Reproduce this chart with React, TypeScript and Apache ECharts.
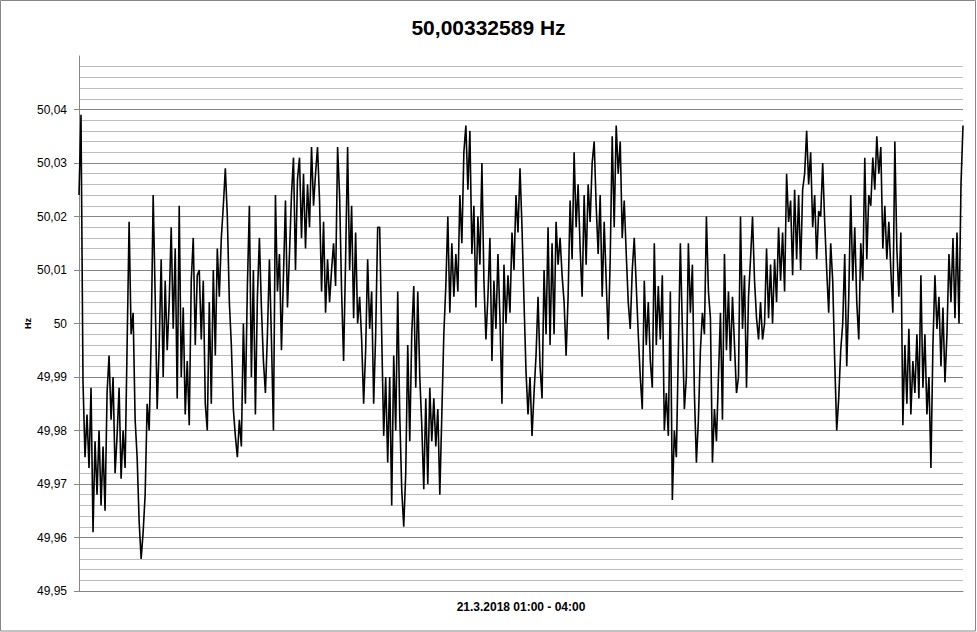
import React, { useEffect, useRef } from "react";
import * as echarts from "echarts";

const chartTitle = "50,00332589 Hz";
const xAxisTitle = "21.3.2018 01:00 - 04:00";
const yAxisTitle = "Hz";
const yMin = 49.95;
const yMax = 50.05;
const yStep = 0.01;

// Frequency samples (Hz), 21.3.2018 01:00 - 04:00
const hzValues = [
  50.024, 50.039, 49.989, 49.975, 49.983,
  49.973, 49.988, 49.961, 49.978, 49.968,
  49.980, 49.966, 49.977, 49.965, 49.987,
  49.994, 49.982, 49.990, 49.972, 49.979,
  49.988, 49.971, 49.980, 49.973, 49.996,
  50.019, 49.998, 50.002, 49.982, 49.975,
  49.963, 49.956, 49.961, 49.968, 49.985,
  49.980, 49.997, 50.024, 50.005, 49.984,
  49.996, 50.012, 49.990, 50.008, 49.995,
  50.004, 50.018, 49.999, 50.014, 49.986,
  50.022, 49.990, 50.003, 49.983, 49.993,
  49.981, 50.008, 50.016, 49.996, 50.009,
  50.010, 49.997, 50.008, 49.985, 49.980,
  50.004, 49.985, 50.010, 49.994, 50.014,
  50.005, 50.016, 50.022, 50.029, 50.020,
  50.004, 49.996, 49.984, 49.979, 49.975,
  49.982, 49.977, 50.000, 49.985, 50.007,
  50.022, 49.990, 50.010, 49.983, 50.005,
  50.016, 50.003, 49.993, 49.987, 49.998,
  50.012, 49.997, 49.980, 50.024, 50.006,
  50.013, 49.995, 50.009, 50.023, 50.003,
  50.013, 50.024, 50.031, 50.010, 50.027,
  50.031, 50.016, 50.028, 50.014, 50.026,
  50.018, 50.033, 50.022, 50.028, 50.033,
  50.023, 50.006, 50.019, 50.002, 50.012,
  50.004, 50.010, 50.015, 50.007, 50.033,
  50.024, 50.006, 49.993, 50.012, 50.033,
  50.010, 50.022, 50.001, 50.017, 50.000,
  50.005, 49.997, 49.985, 49.995, 50.012,
  49.999, 50.006, 49.985, 49.998, 50.018,
  50.018, 49.998, 49.979, 49.990, 49.974,
  49.990, 49.966, 49.994, 49.980, 50.006,
  49.983, 49.969, 49.962, 49.972, 49.996,
  49.978, 49.998, 50.007, 49.988, 50.006,
  49.990, 49.981, 49.969, 49.986, 49.970,
  49.988, 49.978, 49.986, 49.977, 49.984,
  49.968, 49.983, 49.998, 50.007, 50.020,
  50.002, 50.015, 50.005, 50.013, 50.006,
  50.024, 50.015, 50.032, 50.037, 50.025,
  50.036, 50.013, 50.022, 50.003, 50.020,
  50.011, 50.030, 50.008, 49.997, 50.005,
  50.016, 49.993, 50.008, 49.999, 50.013,
  50.001, 49.985, 50.011, 50.000, 50.009,
  50.002, 50.017, 50.010, 50.024, 50.017,
  50.029, 50.018, 50.004, 49.991, 49.983,
  49.990, 49.979, 49.987, 49.994, 50.005,
  49.992, 49.986, 50.010, 49.998, 50.018,
  49.996, 50.015, 49.998, 50.019, 50.011,
  50.016, 50.009, 50.004, 49.994, 50.005,
  50.023, 50.012, 50.032, 50.018, 50.026,
  50.014, 50.005, 50.024, 50.011, 50.026,
  50.019, 50.030, 50.034, 50.022, 50.013,
  50.024, 50.005, 50.019, 50.008, 49.997,
  50.012, 50.035, 50.018, 50.037, 50.028,
  50.034, 50.016, 50.023, 50.013, 50.004,
  49.999, 50.010, 50.016, 50.007, 49.998,
  49.990, 49.984, 50.008, 49.996, 50.004,
  49.993, 49.988, 50.015, 49.996, 50.007,
  49.997, 50.009, 49.980, 49.987, 49.979,
  50.006, 49.967, 49.980, 49.975, 49.995,
  50.015, 49.999, 49.984, 49.990, 50.015,
  50.002, 50.011, 49.987, 49.974, 49.982,
  49.995, 50.002, 49.998, 50.020, 50.006,
  50.001, 49.974, 49.984, 49.978, 49.990,
  50.002, 49.982, 50.013, 49.995, 50.006,
  49.993, 50.005, 49.996, 49.987, 49.990,
  50.020, 49.999, 50.009, 49.988, 50.005,
  50.012, 50.020, 50.008, 50.001, 49.997,
  50.004, 49.997, 50.000, 50.014, 50.001,
  50.011, 50.000, 50.012, 50.004, 50.018,
  50.008, 50.017, 50.006, 50.028, 50.019,
  50.023, 50.009, 50.025, 50.012, 50.024,
  50.010, 50.025, 50.028, 50.036, 50.026,
  50.032, 50.018, 50.024, 50.012, 50.021,
  50.020, 50.030, 50.019, 50.010, 50.002,
  50.015, 50.008, 49.993, 49.980, 49.986,
  49.995, 50.000, 50.013, 49.992, 50.005,
  50.024, 50.008, 50.018, 50.004, 49.997,
  50.015, 50.008, 50.031, 50.012, 50.024,
  50.022, 50.031, 50.025, 50.035, 50.028,
  50.033, 50.014, 50.022, 50.012, 50.019,
  50.010, 50.002, 50.034, 50.014, 50.005,
  50.017, 49.981, 49.996, 49.985, 49.999,
  49.983, 49.993, 49.987, 49.998, 49.986,
  50.009, 49.988, 49.998, 49.983, 49.990,
  49.973, 49.996, 50.009, 49.999, 50.005,
  49.992, 50.003, 49.989, 49.998, 50.013,
  50.004, 50.016, 50.001, 50.017, 50.000,
  50.026, 50.037,
];

const sampleIndex = hzValues.map((_, i) => String(i));

const FONT = "'Liberation Sans', Arial, sans-serif";

export default function App() {
  const ref = useRef<HTMLDivElement>(null);

  useEffect(() => {
    document.body.style.margin = "0";
    if (!ref.current) return;
    const chart = echarts.init(ref.current, null, { renderer: "svg" });
    chart.setOption({
      animation: false,
      backgroundColor: "#ffffff",
      title: {
        text: chartTitle,
        left: "center",
        top: 12,
        textStyle: { fontFamily: FONT, fontSize: 21, fontWeight: "bold", color: "#000" },
      },
      graphic: [
        {
          type: "rect",
          shape: { x: 0.5, y: 0.5, width: 975, height: 630.5 },
          style: { fill: "none", stroke: "#868686", lineWidth: 1 },
          silent: true,
        },
      ],
      grid: { left: 79, right: 14, top: 56, bottom: 41, containLabel: false },
      xAxis: {
        type: "category",
        data: sampleIndex,
        boundaryGap: false,
        name: xAxisTitle,
        nameLocation: "middle",
        nameGap: 10,
        nameTextStyle: { fontFamily: FONT, fontSize: 12, fontWeight: "bold", color: "#000" },
        axisLine: { show: true, lineStyle: { color: "#868686", width: 1 } },
        axisTick: { show: false },
        axisLabel: { show: false },
        splitLine: { show: false },
      },
      yAxis: {
        type: "value",
        min: yMin,
        max: yMax,
        interval: yStep,
        name: yAxisTitle,
        nameLocation: "middle",
        nameRotate: 90,
        nameGap: 47,
        nameMoveOverlap: false,
        nameTextStyle: { fontFamily: FONT, fontSize: 9, fontWeight: "bold", color: "#000" },
        axisLine: { show: true, lineStyle: { color: "#868686", width: 1 } },
        axisTick: { show: true, inside: false, length: 5, lineStyle: { color: "#868686" } },
        axisLabel: {
          margin: 12,
          fontFamily: FONT,
          fontSize: 12,
          color: "#000",
          showMaxLabel: false,
          formatter: (v: number) => String(Math.round(v * 100) / 100).replace(".", ","),
        },
        splitLine: { show: true, showMaxLine: false, lineStyle: { color: "#868686", width: 1 } },
        minorTick: { show: false, splitNumber: 5 },
        minorSplitLine: { show: true, lineStyle: { color: "#bdbdbd", width: 1 } },
      },
      series: [
        {
          type: "line",
          data: hzValues,
          symbol: "none",
          showSymbol: false,
          lineStyle: { color: "#000000", width: 1.6 },
          silent: true,
        },
      ],
    });
    return () => chart.dispose();
  }, []);

  return <div ref={ref} style={{ width: 977, height: 632 }} />;
}
